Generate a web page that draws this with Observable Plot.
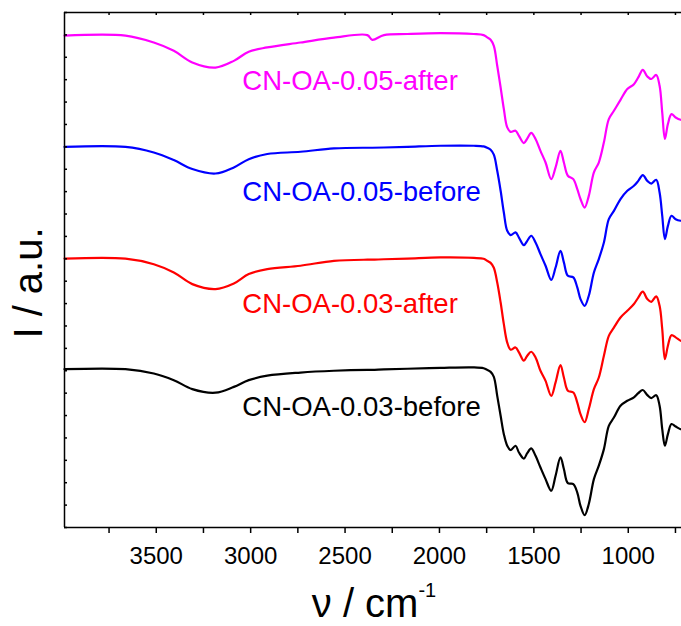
<!DOCTYPE html>
<html><head><meta charset="utf-8">
<script src="https://cdn.jsdelivr.net/npm/d3@7"></script>
<script src="https://cdn.jsdelivr.net/npm/@observablehq/plot@0.6"></script>
<style>
html,body{margin:0;padding:0;background:#fff;overflow:hidden}
</style></head><body><div id="chart"></div>
<script>
// Wavenumber (cm-1) sampling shared by all spectra
const wavenumber = [3986, 3663, 3513, 3407, 3309, 3186, 3089, 3010, 2912, 2736,
  2559, 2382, 2356, 2294, 2170, 1994, 1818, 1766, 1747, 1729,
  1712, 1694, 1676, 1659, 1641, 1623, 1597, 1579, 1553, 1535,
  1514, 1491, 1465, 1438, 1408, 1385, 1359, 1341, 1320, 1291,
  1270, 1253, 1231, 1209, 1182, 1156, 1129, 1103, 1076, 1041,
  1005, 970, 947, 923, 899, 878, 852, 834, 820, 806,
  790, 771, 749, 723, 718];

// Intensities (a.u., stacked)
const cnOA003before = [7.07, 7.07, 6.88, 6.58, 6.18, 6.02, 6.28, 6.58, 6.78, 6.92,
  7.00, 7.04, 7.04, 7.06, 7.09, 7.13, 7.15, 7.11, 7.04, 6.95,
  6.73, 5.88, 4.99, 4.17, 3.65, 3.46, 3.65, 3.35, 3.08, 3.32,
  3.53, 3.20, 2.68, 2.16, 1.64, 2.31, 3.13, 2.61, 1.98, 1.94,
  1.56, 0.97, 0.55, 1.05, 2.16, 2.76, 3.50, 4.54, 4.91, 5.44,
  5.66, 5.81, 6.00, 6.14, 5.91, 5.78, 5.91, 5.44, 4.39, 3.65,
  4.17, 4.62, 4.51, 4.39, 4.39];
const cnOA003after = [12.01, 12.01, 11.76, 11.39, 10.87, 10.65, 10.90, 11.32, 11.54, 11.69,
  11.91, 11.96, 11.96, 11.98, 12.01, 12.06, 12.04, 12.00, 11.91, 11.82,
  11.60, 10.94, 10.05, 9.08, 8.26, 7.94, 8.04, 7.82, 7.45, 7.67,
  7.85, 7.59, 7.00, 6.55, 5.88, 6.48, 7.25, 6.70, 6.11, 6.03,
  5.58, 5.06, 4.70, 5.29, 6.18, 6.70, 7.67, 8.56, 8.93, 9.38,
  9.68, 9.98, 10.27, 10.53, 10.20, 10.08, 10.32, 9.90, 8.86, 7.52,
  8.12, 8.59, 8.49, 8.34, 8.34];
const cnOA005before = [17.00, 17.00, 16.75, 16.41, 16.01, 15.81, 16.08, 16.45, 16.68, 16.78,
  16.93, 16.96, 16.96, 16.97, 17.00, 17.05, 17.05, 17.02, 16.96, 16.87,
  16.65, 15.93, 15.04, 14.07, 13.25, 13.06, 13.18, 12.95, 12.61, 12.80,
  13.03, 12.73, 12.21, 11.69, 11.06, 11.61, 12.36, 11.84, 11.24, 11.17,
  10.72, 10.20, 9.90, 10.35, 11.39, 11.99, 12.73, 13.77, 14.14, 14.67,
  15.04, 15.26, 15.48, 15.74, 15.48, 15.36, 15.53, 14.96, 13.92, 12.88,
  13.47, 13.92, 13.77, 13.70, 13.70];
const cnOA005after = [21.97, 21.97, 21.66, 21.29, 20.77, 20.54, 20.84, 21.25, 21.44, 21.66,
  21.88, 21.99, 21.78, 21.99, 22.04, 22.08, 22.04, 21.99, 21.89, 21.78,
  21.51, 20.62, 19.65, 18.69, 17.87, 17.67, 17.72, 17.49, 17.17, 17.37,
  17.62, 17.35, 16.82, 16.30, 15.56, 16.08, 16.82, 16.30, 15.71, 15.56,
  15.11, 14.67, 14.29, 14.81, 15.86, 16.30, 17.20, 18.24, 18.61, 19.10,
  19.58, 19.80, 20.10, 20.44, 20.14, 20.03, 20.21, 19.73, 18.53, 17.35,
  18.02, 18.46, 18.31, 18.21, 18.21];

const seriesNames = ["CN-OA-0.03-before", "CN-OA-0.03-after", "CN-OA-0.05-before", "CN-OA-0.05-after"];
const seriesColors = ["#000000", "#ff0000", "#0000ff", "#ff00ff"];
const seriesValues = [cnOA003before, cnOA003after, cnOA005before, cnOA005after];

// Label anchors (wavenumber, a.u.)
const labelWn = [3044, 3044, 3044, 3044];
const labelV = [4.99, 9.60, 14.59, 19.53];

// Axes
const xDomain = [3986, 718];
const yDomain = [0, 23];
const majorTicks = [3500, 3000, 2500, 2000, 1500, 1000];
const minorTicks = [3750, 3250, 2750, 2250, 1750, 1250, 750];
const topTicks = [3750, 3500, 3250, 3000, 2750, 2500, 2250, 2000, 1750, 1500, 1250, 1000, 750];
const yTicks = d3.range(0, 24);

const rows = [];
seriesNames.forEach((s, i) => wavenumber.forEach((wn, j) => rows.push({series: s, wn, v: seriesValues[i][j]})));
const labels = seriesNames.map((s, i) => ({series: s, wn: labelWn[i], v: labelV[i]}));

const W = 681, H = 626, mL = 64, mR = 0, mT = 12, mB = 99;

const plot = Plot.plot({
  width: W, height: H,
  marginLeft: mL, marginRight: mR, marginTop: mT, marginBottom: mB,
  style: {fontFamily: "'Liberation Sans', Arial, sans-serif", fontSize: "22px", color: "#000", background: "#fff"},
  x: {domain: xDomain},
  y: {domain: yDomain, axis: null},
  color: {domain: seriesNames, range: seriesColors},
  marks: [
    Plot.line(rows, {x: "wn", y: "v", z: "series", stroke: "series", strokeWidth: 2.2, curve: "catmull-rom"}),
    Plot.ruleY(yDomain, {stroke: "#000", strokeWidth: 1.5}),
    Plot.ruleX([xDomain[0]], {stroke: "#000", strokeWidth: 1.5}),
    Plot.axisX({ticks: majorTicks, tickSize: 6, tickPadding: 13, tickFormat: d => String(d), fontSize: 24, label: null, strokeWidth: 1.5}),
    Plot.axisX({ticks: minorTicks, tickSize: 6, tickFormat: () => "", label: null, strokeWidth: 1.5}),
    Plot.tickX(topTicks, {x: d => d, insetBottom: H - mT - mB - 3, stroke: "#000", strokeWidth: 1.5}),
    Plot.tickY(yTicks, {y: d => d, insetRight: W - mL - mR - 3, stroke: "#000", strokeWidth: 1.5}),
    Plot.text(labels, {x: "wn", y: "v", text: "series", fill: "series", textAnchor: "start", lineAnchor: "bottom", fontSize: 27.5})
  ]
});

const svg = d3.select(plot);
const xt = svg.append("text")
  .attr("x", 374).attr("y", 617)
  .attr("text-anchor", "middle").attr("font-size", 40).attr("fill", "#000");
xt.append("tspan").text("ν / cm");
xt.append("tspan").attr("font-size", 20).attr("dy", -20).text("-1");

svg.append("text")
  .attr("transform", "translate(42,283) rotate(-90)")
  .attr("text-anchor", "middle").attr("font-size", 40).attr("fill", "#000")
  .text("I / a.u.");

document.getElementById("chart").appendChild(plot);
</script>
</body></html>
